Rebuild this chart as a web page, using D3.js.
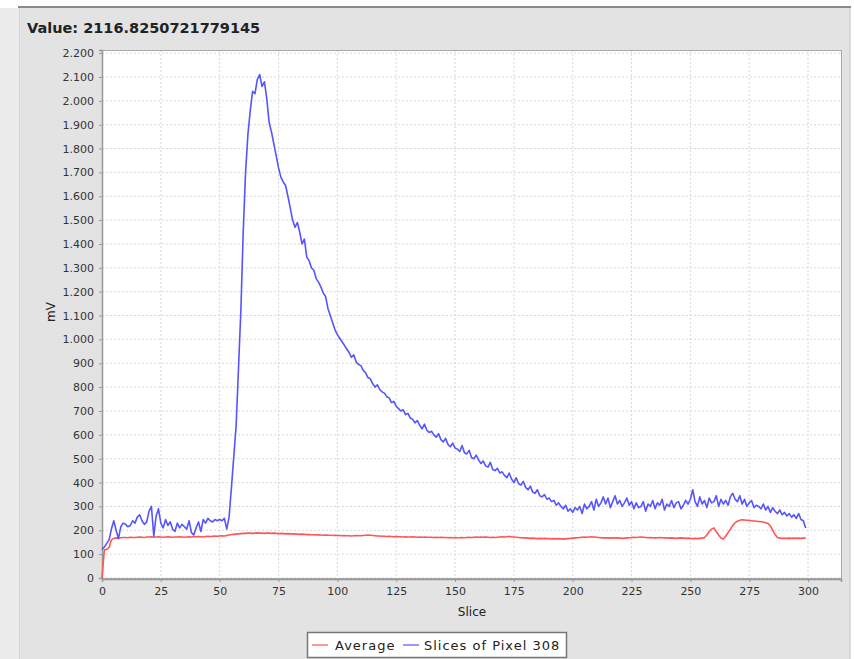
<!DOCTYPE html>
<html>
<head>
<meta charset="utf-8">
<script src="https://cdn.jsdelivr.net/npm/d3@7"></script>
<style>
    body { margin: 0; background: #fff; }
    svg { display: block; font-family: "DejaVu Sans", sans-serif; }
</style>
</head>
<body>
<div id="chart"></div>
<script>
// chart values
const titleText = "Value: 2116.8250721779145";
const xLabel = "Slice";
const yLabel = "mV";
const seriesNames = ["Average", "Slices of Pixel 308"];
const xTicks = [0, 25, 50, 75, 100, 125, 150, 175, 200, 225, 250, 275, 300];
const yTicks = [0, 100, 200, 300, 400, 500, 600, 700, 800, 900, 1000, 1100,
    1200, 1300, 1400, 1500, 1600, 1700, 1800, 1900, 2000, 2100, 2200];

// average over slices 0..299
const averageValues = [
    0, 118, 120, 128, 160, 166, 168, 167, 169, 170,
    170, 169, 171, 170, 170, 171, 172, 171, 170, 172,
    172, 173, 171, 172, 173, 172, 171, 172, 173, 172,
    171, 172, 172, 173, 172, 171, 172, 173, 172, 173,
    173, 174, 173, 172, 174, 175, 174, 175, 176, 175,
    176, 177, 176, 178, 180, 182, 183, 184, 185, 186,
    187, 187, 188, 188, 187, 188, 189, 188, 188, 187,
    188, 188, 187, 188, 187, 186, 187, 186, 185, 186,
    185, 185, 184, 184, 183, 184, 183, 182, 182, 181,
    181, 180, 181, 180, 179, 180, 179, 179, 178, 179,
    178, 178, 177, 178, 177, 177, 176, 177, 178, 177,
    177, 178, 179, 180, 179, 178, 177, 176, 176, 175,
    175, 174, 175, 174, 173, 174, 173, 173, 172, 173,
    172, 172, 173, 172, 171, 172, 171, 172, 171, 171,
    171, 170, 171, 170, 171, 170, 170, 169, 170, 169,
    170, 169, 169, 170, 169, 170, 171, 170, 171, 172,
    171, 172, 171, 172, 171, 170, 171, 170, 171, 172,
    173, 172, 173, 174, 173, 172, 171, 170, 169, 168,
    168, 167, 166, 167, 166, 165, 166, 165, 166, 165,
    165, 164, 165, 164, 165, 164, 163, 164, 165, 166,
    167, 168, 169, 170, 171, 172, 171, 172, 173, 172,
    171, 170, 169, 168, 169, 168, 167, 168, 169, 168,
    167, 166, 167, 168, 169, 170, 171, 170, 171, 172,
    171, 170, 169, 170, 169, 168, 169, 170, 169, 168,
    168, 167, 168, 167, 166, 167, 168, 167, 166, 167,
    166, 165, 166, 165, 166, 167, 170, 180, 195, 205,
    210, 195, 180, 168, 163, 175, 190, 205, 220, 232,
    238, 242, 244, 243, 242, 241, 240, 239, 238, 237,
    236, 235, 232, 228, 218, 200, 182, 170, 167, 166,
    166, 166, 167, 166, 167, 166, 167, 166, 167, 168
];

// pixel 308 over slices 0..299
const pixelValues = [
    120, 130, 145, 160, 205, 240, 200, 165, 215, 230,
    225, 215, 220, 240, 230, 255, 265, 240, 225, 235,
    280, 300, 175, 260, 290, 230, 210, 245, 220, 235,
    205, 195, 230, 210, 225, 215, 205, 240, 190, 180,
    210, 235, 195, 245, 230, 250, 240, 235, 245, 240,
    245, 240, 250, 205, 255, 380, 510, 640, 880, 1120,
    1450, 1700, 1860, 1960, 2040, 2030, 2090, 2110, 2060, 2080,
    2010, 1910, 1870, 1820, 1770, 1720, 1680, 1660, 1645, 1600,
    1550, 1500, 1470, 1490, 1450, 1400, 1420, 1345, 1330, 1300,
    1290, 1255, 1240, 1220, 1195, 1180, 1130, 1100, 1070, 1040,
    1020, 1005, 990, 975, 960, 945, 925, 935, 905, 895,
    890, 870, 860, 840, 835, 815, 800, 810, 790, 780,
    775, 760, 755, 735, 740, 720, 710, 700, 705, 685,
    690, 670, 665, 650, 660, 640, 625, 645, 620, 610,
    615, 600, 590, 605, 580, 570, 585, 560, 550, 565,
    545, 540, 530, 555, 525, 520, 535, 505, 500, 515,
    495, 480, 490, 470, 465, 485, 455, 450, 460, 440,
    445, 430, 420, 440, 415, 400, 420, 395, 390, 405,
    380, 370, 385, 360, 355, 370, 345, 340, 350, 330,
    335, 320, 325, 305, 315, 300, 290, 305, 280, 290,
    275, 295, 285, 300, 270, 310, 290, 300, 320, 285,
    330, 300, 315, 340, 310, 335, 295, 320, 345, 310,
    325, 300, 315, 335, 305, 320, 290, 315, 295, 300,
    320, 280, 310, 300, 325, 290, 315, 305, 330, 285,
    310, 300, 325, 295, 315, 320, 290, 305, 325, 310,
    330, 370, 320, 300, 340, 310, 325, 295, 335, 315,
    320, 345, 300, 330, 310, 325, 305, 340, 355, 330,
    320, 345, 310, 330, 300, 315, 325, 295, 305, 300,
    290, 310, 285, 300, 275, 295, 280, 270, 285, 265,
    275, 260, 270, 255, 265, 250, 270, 245, 240, 210
];

const seriesValues = [averageValues, pixelValues];
const seriesColors = ["#ff5555", "#5555ff"];

const W = 854, H = 659;
const PLOT = { LEFT: 102, RIGHT: 841, TOP: 50, BOTTOM: 578 };

const svg = d3.select('#chart')
    .append('svg')
    .attr('width', W)
    .attr('height', H);

// chart panel
svg.append('rect')
    .attr('x', 19).attr('y', 7)
    .attr('width', 831).attr('height', H)
    .attr('fill', '#e3e3e3')
    .attr('stroke', '#c8c8c8');
svg.append('rect')
    .attr('x', 0).attr('y', 8)
    .attr('width', 19).attr('height', H)
    .attr('fill', '#ececec');
svg.append('line')
    .attr('x1', 18).attr('x2', 851)
    .attr('y1', 7).attr('y2', 7)
    .attr('stroke', '#8a8a8a')
    .attr('stroke-width', 2);

svg.append('text')
    .attr('x', 27)
    .attr('y', 33)
    .attr('font-size', 14.5)
    .attr('font-weight', 'bold')
    .attr('fill', '#222')
    .text(titleText);

const x = d3.scaleLinear()
    .domain([0, 314])
    .range([PLOT.LEFT, PLOT.RIGHT]);

const y = d3.scaleLinear()
    .domain([0, 2213])
    .range([PLOT.BOTTOM, PLOT.TOP]);

// plot background
svg.append('rect')
    .attr('x', PLOT.LEFT).attr('y', PLOT.TOP)
    .attr('width', PLOT.RIGHT - PLOT.LEFT)
    .attr('height', PLOT.BOTTOM - PLOT.TOP)
    .attr('fill', '#fff');

// grid
svg.append('g')
    .selectAll('line')
    .data(xTicks)
    .join('line')
    .attr('x1', d => x(d)).attr('x2', d => x(d))
    .attr('y1', PLOT.TOP).attr('y2', PLOT.BOTTOM)
    .attr('stroke', '#d8d8d8')
    .attr('stroke-dasharray', '2,2');

svg.append('g')
    .selectAll('line')
    .data(yTicks)
    .join('line')
    .attr('x1', PLOT.LEFT).attr('x2', PLOT.RIGHT)
    .attr('y1', d => y(d)).attr('y2', d => y(d))
    .attr('stroke', '#d8d8d8')
    .attr('stroke-dasharray', '2,2');

// border
svg.append('rect')
    .attr('x', PLOT.LEFT + 0.5).attr('y', PLOT.TOP + 0.5)
    .attr('width', PLOT.RIGHT - PLOT.LEFT)
    .attr('height', PLOT.BOTTOM - PLOT.TOP)
    .attr('fill', 'none')
    .attr('stroke', '#a8a8a8');

// axes
const locale = d3.formatLocale({ decimal: ",", thousands: ".", grouping: [3], currency: ["", "€"] });
const fmt = locale.format(",d");

const xAxisGroup = svg.append('g')
    .attr('transform', `translate(0, ${PLOT.BOTTOM + 1})`)
    .call(d3.axisBottom(x).tickValues(xTicks).tickSize(3).tickPadding(5).tickFormat(fmt));

const yAxisGroup = svg.append('g')
    .attr('transform', `translate(${PLOT.LEFT}, 0)`)
    .call(d3.axisLeft(y).tickValues(yTicks).tickSize(3).tickPadding(5).tickFormat(fmt));

[xAxisGroup, yAxisGroup].forEach(g => {
    g.select('.domain').attr('stroke', '#999').attr('stroke-width', 1.5);
    g.selectAll('.tick line').attr('stroke', '#999');
    g.selectAll('.tick text')
        .attr('fill', '#333')
        .attr('font-size', 11)
        .attr('font-family', '"DejaVu Sans", sans-serif');
});

// text labels
svg.append('text')
    .attr('x', 472)
    .attr('y', 616)
    .attr('text-anchor', 'middle')
    .attr('font-size', 12)
    .attr('fill', '#222')
    .text(xLabel);

svg.append('text')
    .attr('x', -312)
    .attr('y', 55)
    .attr('text-anchor', 'middle')
    .attr('font-size', 12)
    .attr('fill', '#222')
    .attr('transform', 'rotate(-90)')
    .text(yLabel);

// series lines
const line = d3.line()
    .x((d, i) => x(i))
    .y(d => y(d));

svg.append('g')
    .selectAll('path')
    .data(seriesValues)
    .join('path')
    .attr('d', d => line(d))
    .attr('fill', 'none')
    .attr('stroke', (d, i) => seriesColors[i])
    .attr('stroke-width', 1.6)
    .attr('stroke-linejoin', 'round');

// legend
const legend = svg.append('g');
legend.append('rect')
    .attr('x', 307.5).attr('y', 632.5)
    .attr('width', 259).attr('height', 25)
    .attr('fill', '#fff')
    .attr('stroke', '#777')
    .attr('stroke-width', 1.5);

const legendPos = [312, 403];
const items = legend.selectAll('g.item')
    .data(seriesNames)
    .join('g')
    .attr('class', 'item')
    .attr('transform', (d, i) => `translate(${legendPos[i]}, 645)`);

items.append('line')
    .attr('x1', 0).attr('x2', 16)
    .attr('stroke', (d, i) => seriesColors[i])
    .attr('stroke-opacity', 0.6)
    .attr('stroke-width', 2);

items.append('text')
    .attr('x', (d, i) => i === 0 ? 23 : 21)
    .attr('dy', '0.36em')
    .attr('font-size', 13)
    .attr('letter-spacing', 1)
    .attr('fill', '#222')
    .text(d => d);
</script>
</body>
</html>
